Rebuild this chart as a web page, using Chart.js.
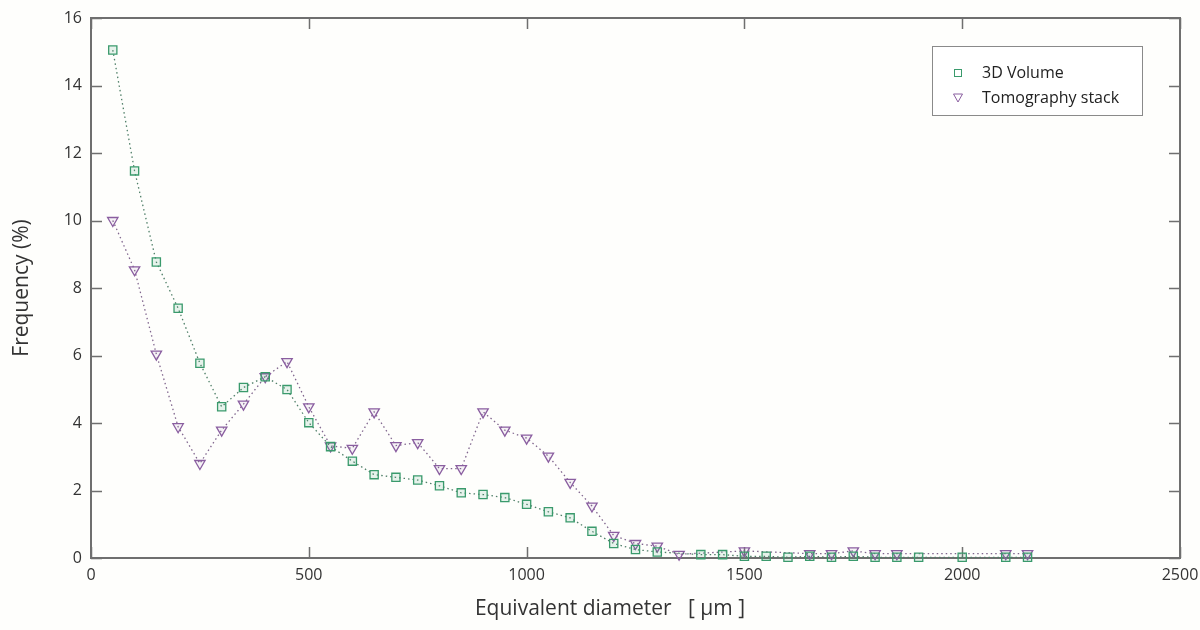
<!DOCTYPE html>
<html>
<head>
<meta charset="utf-8">
<script src="https://cdn.jsdelivr.net/npm/chart.js@4.4.1/dist/chart.umd.min.js"></script>
<style>
  html, body { margin: 0; padding: 0; background: #fefefc; }
  #wrap { width: 1200px; height: 630px; }
</style>
</head>
<body>
<div id="wrap"><canvas id="c" width="1200" height="630"></canvas></div>
<script>
// ---- data ----
const volumeX = [50,100,150,200,250,300,350,400,450,500,550,600,650,700,750,800,850,900,950,1000,1050,1100,1150,1200,1250,1300,1400,1450,1500,1550,1600,1650,1700,1750,1800,1850,1900,2000,2100,2150];
const volumeY = [15.05,11.47,8.77,7.40,5.77,4.48,5.05,5.37,4.99,4.01,3.30,2.87,2.47,2.39,2.31,2.14,1.93,1.88,1.79,1.59,1.37,1.19,0.79,0.43,0.25,0.18,0.10,0.10,0.05,0.05,0.02,0.05,0.02,0.05,0.02,0.02,0.02,0.02,0.02,0.02];
const tomoX = [50,100,150,200,250,300,350,400,450,500,550,600,650,700,750,800,850,900,950,1000,1050,1100,1150,1200,1250,1300,1350,1500,1650,1700,1750,1800,1850,2100,2150];
const tomoY = [10.0,8.54,6.04,3.89,2.80,3.79,4.56,5.37,5.82,4.48,3.32,3.25,4.33,3.33,3.42,2.65,2.65,4.33,3.79,3.55,3.02,2.24,1.54,0.67,0.43,0.35,0.11,0.21,0.13,0.13,0.21,0.13,0.13,0.13,0.13];
const seriesNames = ['3D Volume', 'Tomography stack'];
const xTitle = 'Equivalent diameter   [ \u00b5m ]';
const yTitle = 'Frequency (%)';

const FONT = '"Open Sans", "Noto Sans", sans-serif';
const GREEN = '#3a9a6c';
const PURPLE = '#8a5ea0';

const toPts = (xs, ys) => xs.map((x, i) => ({ x: x, y: ys[i] }));

const framePlugin = {
  id: 'frame',
  beforeDatasetsDraw(chart) {
    const { ctx, chartArea: { left, right, top, bottom }, scales: { x, y } } = chart;
    ctx.save();
    ctx.strokeStyle = '#6f6f6f';
    ctx.lineWidth = 1.5;
    const line = (x1, y1, x2, y2) => { ctx.beginPath(); ctx.moveTo(x1, y1); ctx.lineTo(x2, y2); ctx.stroke(); };
    y.ticks.forEach(t => {
      const py = Math.round(y.getPixelForValue(t.value)) + 0.5;
      line(left, py, left + 11, py);
      line(right, py, right - 11, py);
    });
    x.ticks.forEach(t => {
      const px = Math.round(x.getPixelForValue(t.value)) + 0.5;
      line(px, bottom, px, bottom - 11);
      line(px, top, px, top + 11);
    });
    ctx.lineWidth = 2;
    ctx.strokeRect(left, top, right - left, bottom - top);
    ctx.restore();
  },
  afterDraw(chart) {
    const { ctx } = chart;
    ctx.save();
    // axis titles
    ctx.fillStyle = '#333333';
    ctx.font = '21px ' + FONT;
    ctx.textAlign = 'center';
    ctx.textBaseline = 'middle';
    ctx.fillText(xTitle, 610, 609);
    ctx.translate(22, 288);
    ctx.rotate(-Math.PI / 2);
    ctx.fillText(yTitle, 0, 0);
    ctx.restore();

    // legend
    ctx.save();
    const bx = 932, by = 46, bw = 210, bh = 69;
    ctx.fillStyle = '#ffffff';
    ctx.fillRect(bx, by, bw, bh);
    ctx.strokeStyle = '#8a8a8a';
    ctx.lineWidth = 1;
    ctx.strokeRect(bx + 0.5, by + 0.5, bw, bh);
    const ds = chart.data.datasets;
    const rows = [73, 98];
    ctx.font = '16px ' + FONT;
    ctx.textAlign = 'left';
    ctx.textBaseline = 'middle';
    ds.forEach((d, i) => {
      const cy = rows[i];
      ctx.strokeStyle = d.pointBorderColor;
      ctx.lineWidth = 1;
      if (i === 0) {
        ctx.strokeRect(954.5, cy - 3.5, 7, 7);
      } else {
        ctx.beginPath();
        ctx.moveTo(953.5, cy - 4);
        ctx.lineTo(962.5, cy - 4);
        ctx.lineTo(958, cy + 4);
        ctx.closePath();
        ctx.stroke();
      }
      ctx.fillStyle = '#222222';
      ctx.fillText(d.label, 982, cy);
    });
    ctx.restore();
  }
};

new Chart(document.getElementById('c'), {
  type: 'line',
  data: {
    datasets: [
      {
        label: seriesNames[0],
        data: toPts(volumeX, volumeY),
        borderColor: '#4f7f68',
        borderWidth: 1.3,
        borderDash: [1.5, 3],
        pointStyle: 'rect',
        pointRadius: 5.8,
        pointBorderWidth: 1.3,
        pointBorderColor: GREEN,
        pointBackgroundColor: 'rgba(61,156,112,0.12)',
        tension: 0,
        clip: false
      },
      {
        label: seriesNames[1],
        data: toPts(tomoX, tomoY),
        borderColor: '#80668e',
        borderWidth: 1.3,
        borderDash: [1.5, 3],
        pointStyle: 'triangle',
        pointRotation: 180,
        pointRadius: 6,
        pointBorderWidth: 1.3,
        pointBorderColor: PURPLE,
        pointBackgroundColor: 'rgba(142,100,164,0.08)',
        tension: 0,
        clip: false
      }
    ]
  },
  options: {
    responsive: false,
    animation: false,
    devicePixelRatio: 1,
    layout: { padding: { top: 18, right: 20, left: 0, bottom: 0 } },
    plugins: {
      legend: { display: false },
      tooltip: { enabled: false }
    },
    scales: {
      x: {
        type: 'linear',
        min: 0, max: 2500,
        grid: { display: false, drawTicks: false },
        border: { display: false },
        ticks: { stepSize: 500, padding: 8, color: '#333', font: { family: FONT, size: 16 }, maxRotation: 0, callback: v => String(v) },
        afterFit: s => { s.height = 72; s.paddingLeft = 0; s.paddingRight = 0; }
      },
      y: {
        type: 'linear',
        min: 0, max: 16,
        grid: { display: false, drawTicks: false },
        border: { display: false },
        ticks: { stepSize: 2, padding: 9, color: '#333', font: { family: FONT, size: 16 }, callback: v => String(v) },
        afterFit: s => { s.width = 91; s.paddingTop = 0; s.paddingBottom = 0; }
      }
    }
  },
  plugins: [framePlugin]
});
</script>
</body>
</html>
